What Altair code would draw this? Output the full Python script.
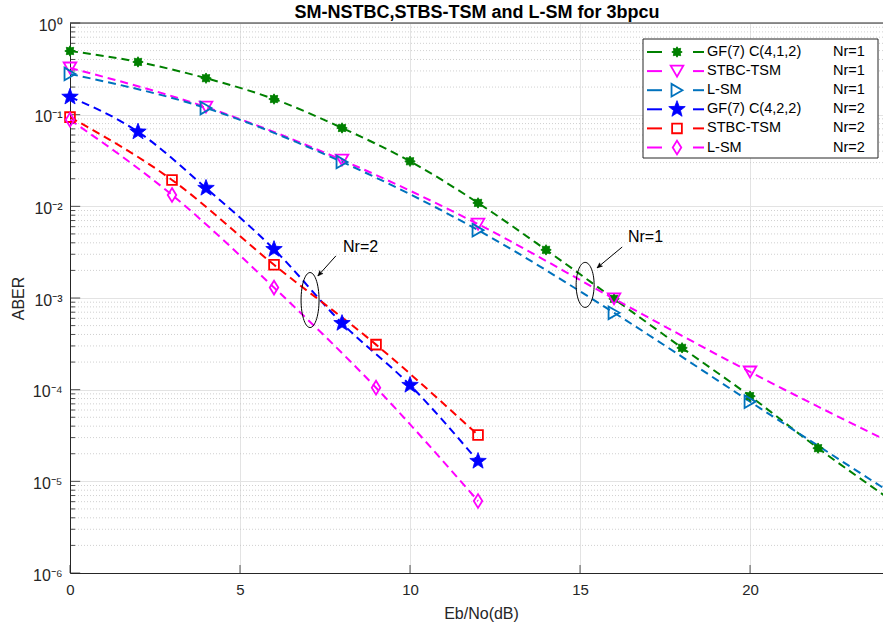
import altair as alt
import pandas as pd
import numpy as np

# ---------------- data ----------------
snr_gf_nr1 = [0, 2, 4, 6, 8, 10, 12, 14, 16, 18, 20, 22]
aber_gf_nr1 = [0.495, 0.376, 0.25, 0.148, 0.0716, 0.031, 0.0109, 0.00335, 0.00098, 0.000286, 0.000085, 0.000023]

snr_stbc_nr1 = [0, 4, 8, 12, 16, 20]
aber_stbc_nr1 = [0.323, 0.121, 0.032, 0.0064, 0.00098, 0.000156]

snr_lsm_nr1 = [0, 4, 8, 12, 16, 20]
aber_lsm_nr1 = [0.278, 0.118, 0.0305, 0.0055, 0.00069, 0.000074]

# Nr=1 curves continue (without marker) to the right edge at 24 dB
snr_tail = 24
aber_tail_nr1 = [0.0000068, 0.000028, 0.0000081]  # GF, STBC-TSM, L-SM

snr_gf_nr2 = [0, 2, 4, 6, 8, 10, 12]
aber_gf_nr2 = [0.156, 0.065, 0.0158, 0.0034, 0.00053, 0.000112, 0.0000166]

snr_stbc_nr2 = [0, 3, 6, 9, 12]
aber_stbc_nr2 = [0.094, 0.0194, 0.0023, 0.00031, 0.000032]

snr_lsm_nr2 = [0, 3, 6, 9, 12]
aber_lsm_nr2 = [0.088, 0.0133, 0.0013, 0.000105, 0.0000061]

labels = ["GF(7) C(4,1,2)", "STBC-TSM", "L-SM", "GF(7) C(4,2,2)", "STBC-TSM", "L-SM"]
nr_labels = ["Nr=1", "Nr=1", "Nr=1", "Nr=2", "Nr=2", "Nr=2"]
colors = ["#008000", "#FF00FF", "#0072BD", "#0000FF", "#FF0000", "#FF00FF"]

title_text = "SM-NSTBC,STBS-TSM and L-SM for 3bpcu"
x_ticks = [0, 5, 10, 15, 20]
y_ticks = [1e-6, 1e-5, 1e-4, 1e-3, 1e-2, 1e-1, 1]
y_tick_text = ["10⁰", "10⁻¹", "10⁻²", "10⁻³", "10⁻⁴", "10⁻⁵", "10⁻⁶"]

# annotations (ellipse centre, arrow tail/tip, text position) in data units
ann_text = ["Nr=2", "Nr=1"]
ann_text_x = [8.03, 16.41]
ann_text_y = [0.0036, 0.00464]
ell_x = [7.06, 15.15]
ell_y = [0.00095, 0.00139]
arrow_tail_x = [7.82, 16.24]
arrow_tail_y = [0.00288, 0.0036]
arrow_tip_x = [7.29, 15.5]
arrow_tip_y = [0.00174, 0.00213]

# ---------------- layout constants ----------------
FONT = "Liberation Sans"
W, H = 813, 550
XMAX = 23.91
DASH = [8, 5]

# ---------------- shapes ----------------
def poly_path(pts):
    return "M" + "L".join(f"{x:.3f},{y:.3f}" for x, y in pts) + "Z"

def star_path(n, r_in, rot=-np.pi / 2):
    pts = []
    for k in range(2 * n):
        r = 1.0 if k % 2 == 0 else r_in
        a = rot + k * np.pi / n
        pts.append((r * np.cos(a), r * np.sin(a)))
    return poly_path(pts)

def ellipse_path(rx):
    t = np.linspace(0, 2 * np.pi, 60, endpoint=False)
    return poly_path(list(zip(rx * np.cos(t), np.sin(t))))

SHAPE_ASTER = star_path(8, 0.68)
SHAPE_PENTA = star_path(5, 0.42)
SHAPE_DIAMOND = "M0,-1L0.62,0L0,1L-0.62,0Z"
ARROW_HEAD = "M0,0L0.42,1L0,0.78L-0.42,1Z"

marker_styles = [
    dict(shape=SHAPE_ASTER, filled=True, size=110),
    dict(shape="triangle-down", filled=False, size=160),
    dict(shape="triangle-right", filled=False, size=160),
    dict(shape=SHAPE_PENTA, filled=True, size=300),
    dict(shape="square", filled=False, size=95),
    dict(shape=SHAPE_DIAMOND, filled=False, size=190),
]

series_x = [snr_gf_nr1, snr_stbc_nr1, snr_lsm_nr1, snr_gf_nr2, snr_stbc_nr2, snr_lsm_nr2]
series_y = [aber_gf_nr1, aber_stbc_nr1, aber_lsm_nr1, aber_gf_nr2, aber_stbc_nr2, aber_lsm_nr2]

xscale = alt.Scale(domain=[0, XMAX], nice=False, zero=False)
yscale = alt.Scale(type="log", domain=[1e-6, 1], nice=False)

label_expr = "[" + ",".join(f"'{t}'" for t in y_tick_text) + "][round(-log(datum.value)/LN10)]"

layers = []

# minor dotted grid
minor_vals = [k * 10.0 ** e for e in range(-6, 0) for k in range(2, 10)]
minor_df = pd.DataFrame({"v": minor_vals})
layers.append(
    alt.Chart(minor_df).mark_rule(color="#c4c4c4", strokeDash=[1, 2], strokeWidth=0.8)
    .encode(y=alt.Y("v:Q", scale=yscale))
)

# inward tick marks on the left axis (major & minor) and bottom axis
tick_df = pd.DataFrame({"v": minor_vals, "x0": 0.0, "x1": 0.15})
layers.append(
    alt.Chart(tick_df).mark_rule(color="#262626", strokeWidth=0.8)
    .encode(y=alt.Y("v:Q", scale=yscale), x=alt.X("x0:Q", scale=xscale), x2="x1:Q")
)
maj_df = pd.DataFrame({"v": y_ticks, "x0": 0.0, "x1": 0.3})
layers.append(
    alt.Chart(maj_df).mark_rule(color="#262626", strokeWidth=0.8)
    .encode(y=alt.Y("v:Q", scale=yscale), x=alt.X("x0:Q", scale=xscale), x2="x1:Q")
)
xt_df = pd.DataFrame({"v": x_ticks, "y0": 1e-6, "y1": 10 ** (-6 + 8 / 91.7)})
layers.append(
    alt.Chart(xt_df).mark_rule(color="#262626", strokeWidth=0.8)
    .encode(x=alt.X("v:Q", scale=xscale), y=alt.Y("y0:Q", scale=yscale), y2="y1:Q")
)
# top frame line
top_df = pd.DataFrame({"x0": [0.0], "x1": [XMAX], "y": [1.0]})
layers.append(
    alt.Chart(top_df).mark_rule(color="#262626", strokeWidth=1)
    .encode(x=alt.X("x0:Q", scale=xscale), x2="x1:Q", y=alt.Y("y:Q", scale=yscale))
)

# curves
for i in range(6):
    xs = list(series_x[i])
    ys = list(series_y[i])
    if i < 3:
        xs_line = xs + [snr_tail]
        ys_line = ys + [aber_tail_nr1[i]]
    else:
        xs_line, ys_line = xs, ys
    ldf = pd.DataFrame({"snr": xs_line, "aber": ys_line})
    layers.append(
        alt.Chart(ldf).mark_line(color=colors[i], strokeWidth=2, strokeDash=DASH,
                                 interpolate="monotone", clip=True)
        .encode(
            x=alt.X("snr:Q", scale=xscale,
                    axis=alt.Axis(values=x_ticks, title="Eb/No(dB)", grid=True,
                                  gridColor="#e3e3e3", gridWidth=1, ticks=False, tickSize=0,
                                  domainColor="#262626", domainWidth=1,
                                  labelFont=FONT, labelFontSize=15, labelColor="#262626",
                                  labelPadding=9, titleFont=FONT, titleFontSize=16,
                                  titleFontWeight="normal", titleColor="#262626",
                                  titleX=411, titleY=40, titleBaseline="middle",
                                  titleAlign="center", labelFlush=False)),
            y=alt.Y("aber:Q", scale=yscale,
                    axis=alt.Axis(values=y_ticks, title="ABER", grid=True,
                                  gridColor="#e3e3e3", gridWidth=1, ticks=False, tickSize=0,
                                  domainColor="#262626", domainWidth=1,
                                  labelExpr=label_expr, labelFont=FONT, labelFontSize=16,
                                  labelColor="#262626", labelPadding=8, labelFlush=False,
                                  labelOffset=2,
                                  titleFont=FONT, titleFontSize=16, titleFontWeight="normal",
                                  titleColor="#262626", titleX=-52, titleY=275,
                                  titleAngle=-90, titleAlign="center",
                                  titleBaseline="middle")),
        )
    )

for i in range(6):
    pdf = pd.DataFrame({"snr": series_x[i], "aber": series_y[i]})
    st = marker_styles[i]
    if st["filled"]:
        mk = alt.Chart(pdf).mark_point(shape=st["shape"], size=st["size"], filled=True,
                                       fill=colors[i], stroke=colors[i], strokeWidth=0.8,
                                       opacity=1)
    else:
        mk = alt.Chart(pdf).mark_point(shape=st["shape"], size=st["size"], filled=False,
                                       stroke=colors[i], strokeWidth=1.8, opacity=1)
    layers.append(mk.encode(x=alt.X("snr:Q", scale=xscale), y=alt.Y("aber:Q", scale=yscale)))

# annotations: ellipses, arrows, texts
for j in range(2):
    adf = pd.DataFrame({"x": [ell_x[j]], "y": [ell_y[j]]})
    h = 55 if j == 0 else 45
    layers.append(
        alt.Chart(adf).mark_point(shape=ellipse_path(18 / h), size=h * h, filled=False,
                                  stroke="black", strokeWidth=1, opacity=1)
        .encode(x=alt.X("x:Q", scale=xscale), y=alt.Y("y:Q", scale=yscale))
    )
    rdf = pd.DataFrame({"x": [arrow_tail_x[j]], "y": [arrow_tail_y[j]],
                        "x2": [arrow_tip_x[j]], "y2": [arrow_tip_y[j]]})
    layers.append(
        alt.Chart(rdf).mark_rule(color="black", strokeWidth=1)
        .encode(x=alt.X("x:Q", scale=xscale), y=alt.Y("y:Q", scale=yscale), x2="x2:Q", y2="y2:Q")
    )
    hdf = pd.DataFrame({"x": [arrow_tip_x[j]], "y": [arrow_tip_y[j]]})
    ang = 222 if j == 0 else 230
    layers.append(
        alt.Chart(hdf).mark_point(shape=ARROW_HEAD, size=110, filled=True, fill="black",
                                  stroke="black", strokeWidth=0.5, angle=ang, opacity=1)
        .encode(x=alt.X("x:Q", scale=xscale), y=alt.Y("y:Q", scale=yscale))
    )
    tdf = pd.DataFrame({"x": [ann_text_x[j]], "y": [ann_text_y[j]], "t": [ann_text[j]]})
    layers.append(
        alt.Chart(tdf).mark_text(font=FONT, fontSize=16, align="left", baseline="middle",
                                 color="black")
        .encode(x=alt.X("x:Q", scale=xscale), y=alt.Y("y:Q", scale=yscale), text="t:N")
    )

# legend (drawn by hand, in pixel space of the plot area)
one = pd.DataFrame({"a": [0]})
LX0, LX1, LY0, LY1 = 573, 808, 16, 135
layers.append(
    alt.Chart(one).mark_rect(fill="white", stroke="#262626", strokeWidth=1)
    .encode(x=alt.value(LX0), x2=alt.value(LX1), y=alt.value(LY0), y2=alt.value(LY1))
)
for i in range(6):
    yy = 29 + i * 19.1
    layers.append(
        alt.Chart(one).mark_rule(color=colors[i], strokeWidth=2)
        .encode(x=alt.value(577), x2=alt.value(592), y=alt.value(yy))
    )
    layers.append(
        alt.Chart(one).mark_rule(color=colors[i], strokeWidth=2)
        .encode(x=alt.value(623), x2=alt.value(634), y=alt.value(yy))
    )
    st = marker_styles[i]
    if st["filled"]:
        mk = alt.Chart(one).mark_point(shape=st["shape"], size=st["size"], filled=True,
                                       fill=colors[i], stroke=colors[i], strokeWidth=0.8,
                                       opacity=1)
    else:
        mk = alt.Chart(one).mark_point(shape=st["shape"], size=st["size"], filled=False,
                                       stroke=colors[i], strokeWidth=1.8, opacity=1)
    layers.append(mk.encode(x=alt.value(607), y=alt.value(yy)))
    layers.append(
        alt.Chart(one).mark_text(font=FONT, fontSize=14.5, align="left", baseline="middle",
                                 color="black", text=labels[i])
        .encode(x=alt.value(637), y=alt.value(yy))
    )
    layers.append(
        alt.Chart(one).mark_text(font=FONT, fontSize=14.5, align="left", baseline="middle",
                                 color="black", text=nr_labels[i])
        .encode(x=alt.value(763), y=alt.value(yy))
    )

# title, as a text mark just above the plot area
layers.append(
    alt.Chart(one).mark_text(font=FONT, fontSize=18, fontWeight="bold", align="center",
                             baseline="alphabetic", color="black", text=title_text)
    .encode(x=alt.value(407), y=alt.value(-5))
)

chart = (
    alt.layer(*layers)
    .properties(
        width=W, height=H,
        padding={"left": 70, "top": 23, "right": 0, "bottom": 55},
        autosize=alt.AutoSizeParams(type="none"),
        background="white",
    )
    .configure_view(stroke=None)
)

chart.save("out.html", embed_options={"renderer": "svg", "actions": False})
